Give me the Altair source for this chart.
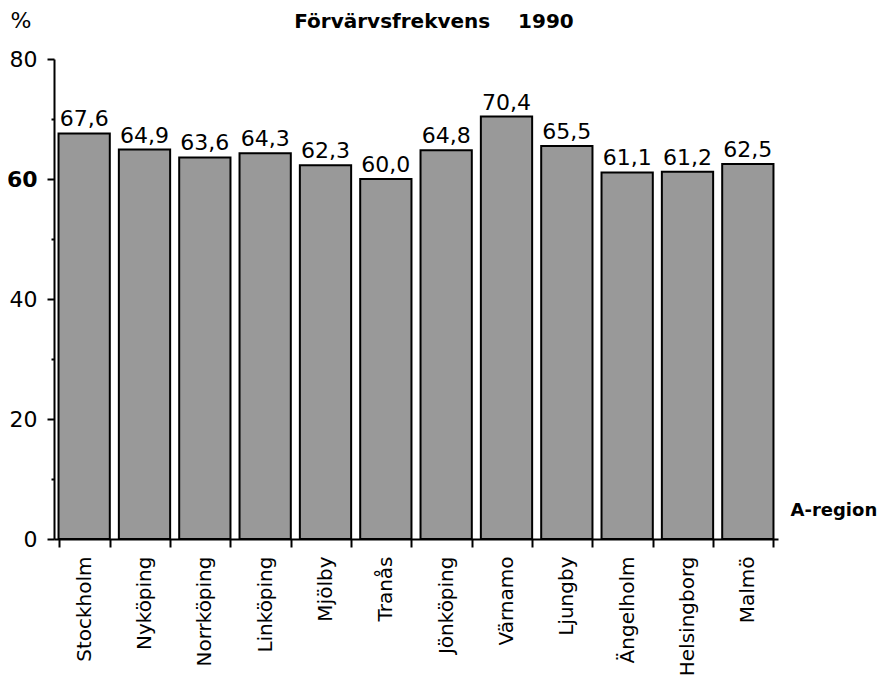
import altair as alt
import pandas as pd

regions = ["Stockholm", "Nyköping", "Norrköping", "Linköping", "Mjölby", "Tranås",
           "Jönköping", "Värnamo", "Ljungby", "Ängelholm", "Helsingborg", "Malmö"]
values = [67.6, 64.9, 63.6, 64.3, 62.3, 60.0, 64.8, 70.4, 65.5, 61.1, 61.2, 62.5]
y_ticks = [0, 10, 20, 30, 40, 50, 60, 70, 80]

df = pd.DataFrame({"region": regions, "value": values})
df["label"] = [f"{v:.1f}".replace(".", ",") for v in values]

x = alt.X(
    "region:N",
    sort=regions,
    scale=alt.Scale(paddingInner=0.15, paddingOuter=0.075),
    axis=alt.Axis(
        title="A-region",
        titleFont="DejaVu Sans",
        titleFontSize=18,
        titleFontWeight="bold",
        titleColor="black",
        titleAngle=0,
        titleAlign="left",
        titleBaseline="middle",
        titleX=736,
        titleY=-29,
        labelAngle=-90,
        labelFont="DejaVu Sans",
        labelFontSize=20,
        labelColor="black",
        labelPadding=9,
        tickBand="extent",
        tickSize=8,
        tickWidth=2,
        tickColor="black",
        domainColor="black",
        domainWidth=2,
    ),
)

y = alt.Y(
    "value:Q",
    scale=alt.Scale(domain=[0, 80], nice=False, zero=True),
    axis=alt.Axis(
        values=y_ticks,
        title="%",
        titleFont="DejaVu Sans",
        titleFontSize=22,
        titleFontWeight="normal",
        titleColor="black",
        titleAngle=0,
        titleAlign="left",
        titleBaseline="middle",
        titleX=-44,
        titleY=-39,
        labelExpr="datum.value % 20 === 0 ? datum.label : ''",
        labelFont="DejaVu Sans",
        labelFontSize=22,
        labelColor="black",
        labelPadding=10,
        labelFontWeight={"condition": {"test": "datum.value === 60", "value": "bold"}, "value": "normal"},
        tickSize={"condition": {"test": "datum.value % 20 === 0", "value": 7}, "value": 3},
        tickWidth=2,
        tickColor="black",
        domainColor="black",
        domainWidth=2,
        grid=False,
    ),
)

bars = alt.Chart(df).mark_bar(
    color="#999999", stroke="black", strokeWidth=2
).encode(x=x, y=y)

texts = alt.Chart(df).mark_text(
    baseline="bottom", dy=-2, font="DejaVu Sans", fontSize=22, color="black"
).encode(x=alt.X("region:N", sort=regions), y=alt.Y("value:Q"), text="label:N")

chart = alt.layer(bars, texts).properties(
    width=724,
    height=480,
    autosize=alt.AutoSizeParams(type="none"),
    padding={"left": 46, "top": 51, "right": 105, "bottom": 140},
    title=alt.TitleParams(
        text="Förvärvsfrekvens\u00a0\u00a0\u00a0\u00a01990",
        font="DejaVu Sans",
        fontSize=20,
        fontWeight="bold",
        color="black",
        anchor="middle",
        baseline="middle",
        dx=18,
        dy=33,
        offset=0,
    ),
).configure(background="white").configure_view(stroke=None)

chart.save("out.html", embed_options={"renderer": "svg", "actions": False})
